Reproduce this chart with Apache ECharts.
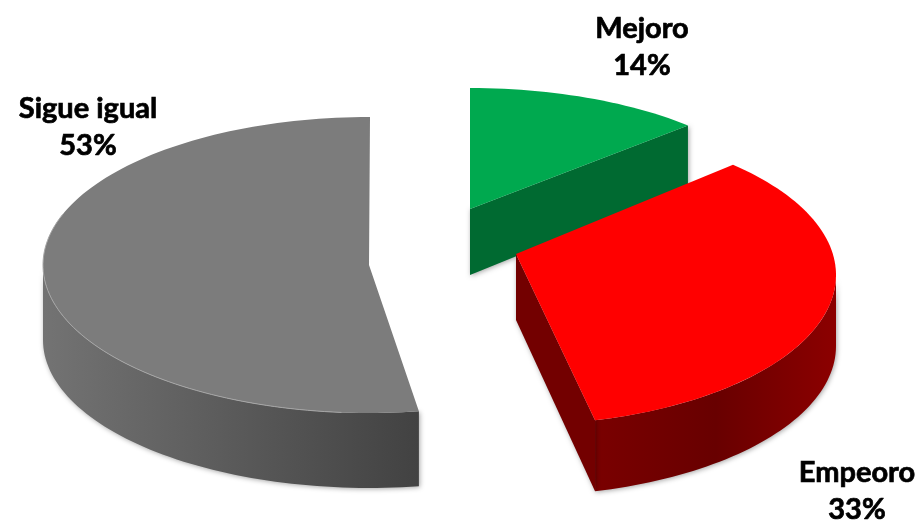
<!DOCTYPE html>
<html><head><meta charset="utf-8">
<style>html,body{margin:0;padding:0;background:#fff}#c{width:920px;height:521px}</style>
<script src="https://cdn.jsdelivr.net/npm/echarts@6/dist/echarts.min.js"></script>
</head><body><div id="c"></div>
<script>
const categories = ['Mejoro', 'Empeoro', 'Sigue igual'];
const shares = [14, 33, 53];

// view settings of each slice: ellipse, apex, extrusion, angular correction of the perspective
const views = [
  {cx:470, cy:235, rx:327, ry:147, ax:470, ay:209, depth:61, apexDepth:66, d0:0, d1:-8.6, cut:'end', z:2,
   top:'#00a94f', side:['#006a31','#006a31'], lx:642, ly:47},
  {cx:516, cy:275, rx:320, ry:150, ax:516, ay:254, depth:71, apexDepth:66, d0:-7.7, d1:-3.5, cut:'end', z:3,
   top:'#ff0000', side:['#6c0000','#8c0000'], lx:857, ly:491},
  {cx:370, cy:265, rx:327, ry:148, ax:369, ay:265, depth:75, apexDepth:75, d0:2.2, d1:0, cut:null, z:1,
   top:'#7c7c7c', side:['#737373','#424242'], lx:88, ly:127}
];

function pt(v, deg, dy) {
  const r = deg * Math.PI / 180;
  return [v.cx + v.rx * Math.sin(r), v.cy - v.ry * Math.cos(r) + (dy || 0)];
}
function arc(v, a, b, dy) {
  const n = Math.max(2, Math.ceil(Math.abs(b - a) / 1.5)), out = [];
  for (let i = 0; i <= n; i++) out.push(pt(v, a + (b - a) * i / n, dy));
  return out;
}
const total = shares.reduce((s, x) => s + x, 0);

function renderItem(params, api) {
  const i = params.dataIndex, v = views[i], val = api.value(0);
  let before = 0;
  for (let k = 0; k < i; k++) before += shares[k];
  const a0 = before / total * 360 + v.d0;
  const a1 = (before + val) / total * 360 + v.d1;
  const children = [];
  const shadow = {shadowBlur: 5, shadowColor: 'rgba(0,0,0,0.35)', shadowOffsetX: 1, shadowOffsetY: 1};

  // outer wall (only the part facing the viewer)
  const s0 = Math.max(a0, 90), s1 = Math.min(a1, 270);
  if (s1 > s0) {
    const pts = arc(v, s0, s1, 0).concat(arc(v, s1, s0, v.depth));
    const wallFill = v.top === '#ff0000'
      ? new echarts.graphic.LinearGradient(0, 0, 1, 0, [
          {offset: 0, color: '#7a0000'}, {offset: 0.5, color: '#680000'}, {offset: 1, color: '#8c0000'}])
      : new echarts.graphic.LinearGradient(0, 0, 1, 0, [
          {offset: 0, color: v.side[0]}, {offset: 1, color: v.side[1]}]);
    children.push({type: 'polygon', z2: v.z, shape: {points: pts},
      style: Object.assign({fill: wallFill}, shadow)});
  }
  // radial cut face
  if (v.cut) {
    const c = pt(v, v.cut === 'start' ? a0 : a1);
    children.push({type: 'polygon', z2: v.z, shape: {points: [
      [v.ax, v.ay], c, [c[0], c[1] + v.depth], [v.ax, v.ay + v.apexDepth]]},
      style: Object.assign({fill: v.side[0] === '#006a31' ? '#006a31' : '#730000'}, shadow)});
  }
  // top face
  children.push({type: 'polygon', z2: v.z, shape: {points: [[v.ax, v.ay]].concat(arc(v, a0, a1, 0))},
    style: {fill: v.top}});
  // thin rim highlight on the grey slice
  if (i === 2) {
    children.push({type: 'polyline', z2: v.z, shape: {points: arc(v, 185, 290, 0)},
      style: {fill: null, stroke: '#a6a6a6', lineWidth: 1}});
  }
  // label
  children.push({type: 'text', z2: 10, x: v.lx, y: v.ly, style: {
    text: categories[i] + '\n' + val + '%',
    x: 0, y: 0, align: 'center', verticalAlign: 'middle',
    font: 'bold 29px Lato', lineHeight: 37, fill: '#000', stroke: '#000', lineWidth: 0.7}});
  return {type: 'group', children};
}

const chart = echarts.init(document.getElementById('c'), null, {renderer: 'canvas'});
chart.setOption({
  animation: false,
  backgroundColor: '#fff',
  series: [{
    type: 'custom',
    coordinateSystem: 'none',
    renderItem,
    data: shares.map((s, i) => ({name: categories[i], value: [s]}))
  }]
});
</script></body></html>
